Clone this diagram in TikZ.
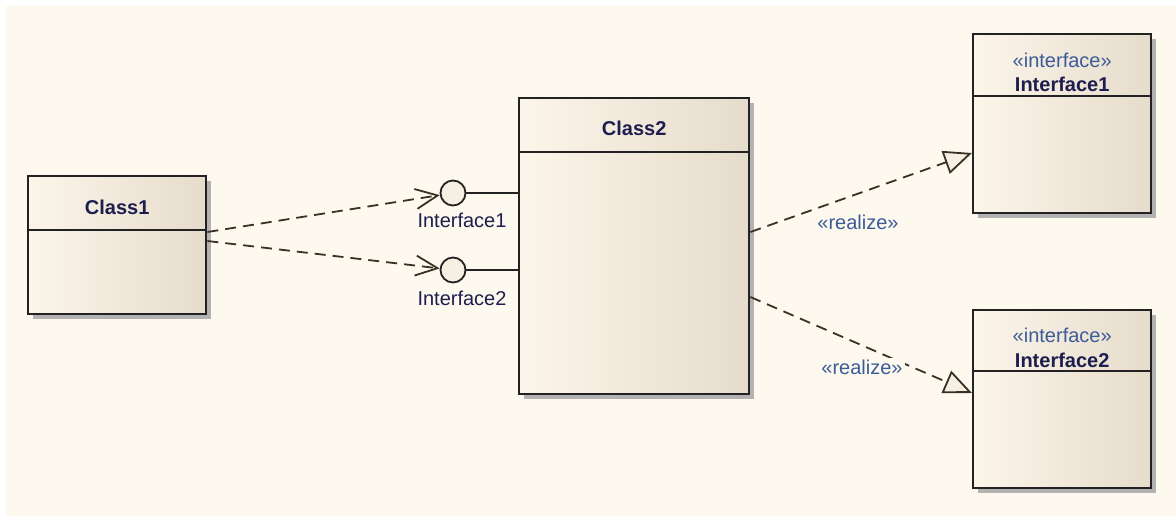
\documentclass[tikz,border=0pt]{standalone}
\usepackage{fontspec}
\setmainfont{Liberation Sans}
\usetikzlibrary{arrows.meta,calc,shadows}
\definecolor{bg}{HTML}{FDF9EF}
\definecolor{boxl}{HTML}{FCF5EA}
\definecolor{boxr}{HTML}{E6DCCC}
\definecolor{linec}{HTML}{222222}
\definecolor{dashc}{HTML}{3A3122}
\definecolor{namec}{HTML}{1E1E4E}
\definecolor{stereoc}{HTML}{3C5C98}
\definecolor{circf}{HTML}{F6EFE3}
\begin{document}
\begin{tikzpicture}[x=1pt,y=-1pt,
  umlbox/.style={draw=linec,line width=2.4pt,left color=boxl,right color=boxr,
    inner sep=0pt,anchor=north west,
    drop shadow={shadow xshift=5pt,shadow yshift=-5pt,fill=black!30,opacity=1}},
  divider/.style={draw=linec,line width=2.2pt},
  nametext/.style={font=\fontsize{20}{24}\selectfont\bfseries,text=namec,inner sep=0pt},
  stereotext/.style={font=\fontsize{20}{24}\selectfont,text=stereoc,inner sep=0pt},
  lbltext/.style={font=\fontsize{20}{24}\selectfont,text=namec,inner sep=0pt},
  lolli/.style={circle,draw=linec,line width=1.8pt,fill=circf,minimum size=25pt,inner sep=0pt},
  dep/.style={draw=dashc,line width=1.8pt,dash pattern=on 11pt off 7pt,
    -{Straight Barb[length=22pt,width=20pt]}},
  real/.style={draw=dashc,line width=1.8pt,dash pattern=on 11pt off 7pt,
    -{Triangle[length=28pt,width=24pt,fill=circf]}},
  solidline/.style={draw=linec,line width=1.8pt}]
\useasboundingbox (0,0) rectangle (1176,515);
\fill[white] (0,0) rectangle (1176,515);
\fill[bg] (6,6) rectangle (1177,516);

% boxes
\node[umlbox,minimum width=178pt,minimum height=138pt] (c1) at (27,175) {};
\node[umlbox,minimum width=230pt,minimum height=296pt] (c2) at (518,97) {};
\node[umlbox,minimum width=178pt,minimum height=179pt] (i1) at (972,33) {};
\node[umlbox,minimum width=178pt,minimum height=178pt] (i2) at (972,309) {};

\draw[divider] ($(c1.north west)+(0,55)$) -- ($(c1.north east)+(0,55)$);
\draw[divider] ($(c2.north west)+(0,55)$) -- ($(c2.north east)+(0,55)$);
\draw[divider] ($(i1.north west)+(0,63)$) -- ($(i1.north east)+(0,63)$);
\draw[divider] ($(i2.north west)+(0,62)$) -- ($(i2.north east)+(0,62)$);

\node[nametext] (c1n) at ($(c1.north)+(0,32)$) {Class1};
\node[nametext] (c2n) at ($(c2.north)+(0,31)$) {Class2};
\node[stereotext] (i1s) at ($(i1.north)+(0,27)$) {«interface»};
\node[nametext] (i1n) at ($(i1.north)+(0,51)$) {Interface1};
\node[stereotext] (i2s) at ($(i2.north)+(0,26)$) {«interface»};
\node[nametext] (i2n) at ($(i2.north)+(0,51)$) {Interface2};

% lollipops
\node[lolli] (lp1) at (453,193) {};
\node[lolli] (lp2) at (453,270) {};
\draw[solidline] (lp1.east) -- (lp1.east -| c2.west);
\draw[solidline] (lp2.east) -- (lp2.east -| c2.west);
\node[lbltext] (lp1l) at (462,220) {Interface1};
\node[lbltext] (lp2l) at (462,298) {Interface2};

% dependencies
\draw[dep] ($(c1.north east)+(0,57)$) -- (lp1);
\draw[dep] ($(c1.north east)+(0,66)$) -- (lp2);

% realizations
\draw[real] ($(c2.north east)+(0,135)$) -- ($(i1.north west)+(0,120)$);
\draw[real] ($(c2.north east)+(0,200)$) -- ($(i2.north west)+(0,84)$);
\node[stereotext] (r1) at (858,222) {«realize»};
\node[stereotext,fill=bg,inner sep=2pt] (r2) at (862,367) {«realize»};
\end{tikzpicture}
\end{document}
